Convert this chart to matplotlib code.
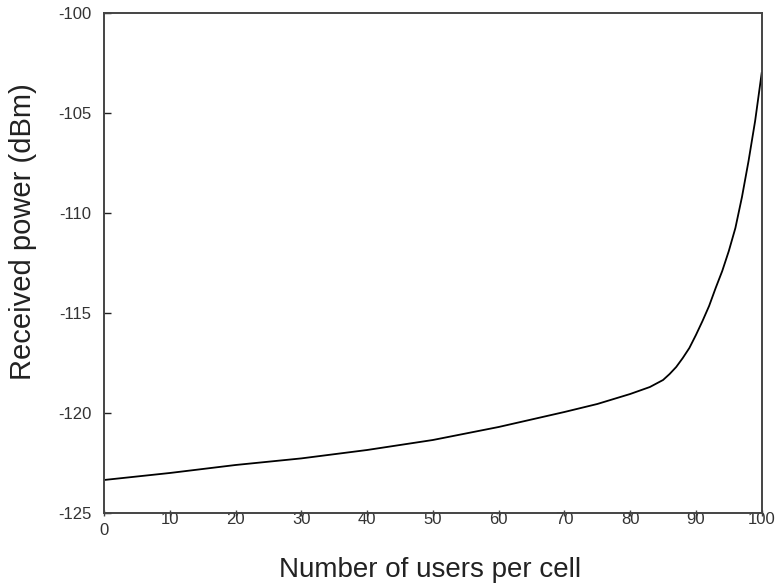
import matplotlib
matplotlib.use("Agg")
import matplotlib.pyplot as plt
from matplotlib.transforms import blended_transform_factory, ScaledTranslation

users = [0, 10, 15, 20, 30, 40, 45, 50, 60, 70, 75, 80, 83, 85, 86, 87, 88, 89, 90,
         91, 92, 93, 94, 95, 96, 97, 98, 99, 100]
power_dbm = [-123.35, -123.0, -122.8, -122.6, -122.27, -121.85, -121.6, -121.35, -120.7,
             -119.95, -119.55, -119.05, -118.7, -118.35, -118.05, -117.7, -117.25, -116.75,
             -116.1, -115.4, -114.65, -113.75, -112.9, -111.9, -110.75, -109.2, -107.4,
             -105.4, -103.0]
xticks = [0, 10, 20, 30, 40, 50, 60, 70, 80, 90, 100]
yticks = [-125, -120, -115, -110, -105, -100]

plt.rcParams['font.family'] = ['Liberation Sans', 'DejaVu Sans']
plt.rcParams['axes.unicode_minus'] = False

fig = plt.figure(figsize=(7.75, 5.88), dpi=100)
ax = fig.add_axes([104/775, 75/588, (761.7-104)/775, (513-13)/588])

ax.plot(users, power_dbm, color='black', lw=1.3)
ax.set_xlim(0, 100)
ax.set_ylim(-125, -100)
ax.set_xticks(xticks)
ax.set_yticks(yticks)
ax.set_xticklabels([''] + [str(v) for v in xticks[1:]])

for s in ax.spines.values():
    s.set_color('#444444')
    s.set_linewidth(1.4)

ax.tick_params(axis='x', direction='inout', length=5, width=1, colors='#444444',
               labelcolor='#333333', labelsize=12, pad=-3)
ax.tick_params(axis='y', direction='in', length=5, width=1, colors='#222222',
               labelcolor='#333333', labelsize=12, pad=9)

# first x tick label drawn slightly lower
tr = blended_transform_factory(ax.transData, ax.transAxes) + ScaledTranslation(0, -0.10, fig.dpi_scale_trans)
ax.text(xticks[0], 0, str(xticks[0]), transform=tr, ha='center', va='top',
        fontsize=12, color='#333333')

ax.set_xlabel('Number of users per cell', fontsize=20, color='#222222', va='center')
ax.set_ylabel('Received power (dBm)', fontsize=21, color='#222222', va='center')
ax.xaxis.set_label_coords((430 - 104) / 657.7, (513 - 570) / 500)
ax.yaxis.set_label_coords((23 - 104) / 657.7, (513 - 232) / 500)

fig.savefig('out.png', dpi=100)
